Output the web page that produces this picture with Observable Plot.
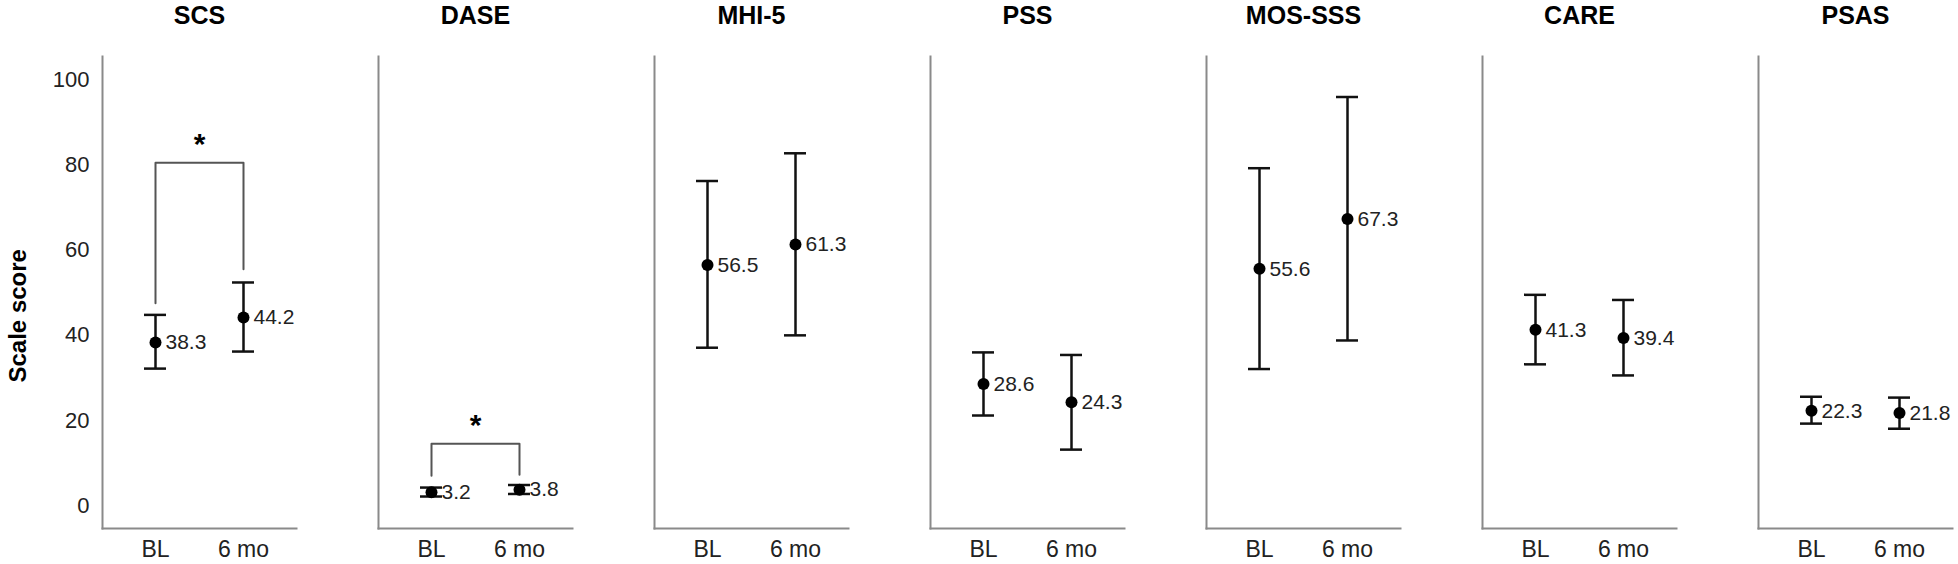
<!DOCTYPE html>
<html>
<head>
<meta charset="utf-8">
<script src="https://cdn.jsdelivr.net/npm/d3@7"></script>
<script src="https://cdn.jsdelivr.net/npm/@observablehq/plot@0.6"></script>
<style>
  html, body { margin: 0; padding: 0; background: #fff; }
</style>
</head>
<body>
<div id="chart"></div>
<script>
// ---- data ----
const scales = ["SCS", "DASE", "MHI-5", "PSS", "MOS-SSS", "CARE", "PSAS"];
const timepoints = ["BL", "6 mo"];
const meanBL = [38.3, 3.2, 56.5, 28.6, 55.6, 41.3, 22.3];
const lowBL  = [32.2, 2.2, 37.1, 21.2, 32.1, 33.2, 19.3];
const highBL = [44.8, 4.3, 76.2, 36.0, 79.2, 49.5, 25.6];
const mean6  = [44.2, 3.8, 61.3, 24.3, 67.3, 39.4, 21.8];
const low6   = [36.2, 2.8, 40.0, 13.2, 38.8, 30.6, 18.1];
const high6  = [52.4, 4.9, 82.7, 35.4, 95.9, 48.3, 25.4];
const yTicks = [0, 20, 40, 60, 80, 100];
// significance brackets
const bracketScales = ["SCS", "DASE"];
const bracketTop    = [80.5, 14.6];
const bracketLegBL  = [47.5, 7.1];
const bracketLeg6   = [55.5, 7.3];
const yLabel = "Scale score";

// ---- tables built from the arrays ----
const rows = [];
scales.forEach((s, i) => {
  rows.push({scale: s, time: timepoints[0], mean: meanBL[i], low: lowBL[i], high: highBL[i]});
  rows.push({scale: s, time: timepoints[1], mean: mean6[i], low: low6[i], high: high6[i]});
});
const bracketRows = [];
bracketScales.forEach((s, i) => {
  bracketRows.push({scale: s, time: timepoints[0], y: bracketLegBL[i]});
  bracketRows.push({scale: s, time: timepoints[0], y: bracketTop[i]});
  bracketRows.push({scale: s, time: timepoints[1], y: bracketTop[i]});
  bracketRows.push({scale: s, time: timepoints[1], y: bracketLeg6[i]});
});
const bracketStars = bracketScales.map((s, i) => ({scale: s, y: bracketTop[i]}));

const axisColor = "#8a8a8a";
const ink = "#111";

const chart = Plot.plot({
  width: 1958,
  height: 564,
  marginTop: 56,
  marginBottom: 36,
  marginLeft: 99,
  marginRight: 3,
  style: {fontFamily: "'Liberation Sans', Arial, Helvetica, sans-serif", background: "#fff", color: "#222"},
  fx: {domain: scales, paddingInner: 0.2955, paddingOuter: 0, label: null},
  x: {type: "band", domain: timepoints, paddingInner: 0.75, paddingOuter: 0.477, label: null},
  y: {domain: [-5.3, 105.4], label: null},
  marks: [
    Plot.frame({anchor: "left", stroke: axisColor, strokeWidth: 2}),
    Plot.frame({anchor: "bottom", stroke: axisColor, strokeWidth: 2}),
    Plot.axisFx({anchor: "top", tickSize: 0, tickPadding: 33, fontSize: 25, fontWeight: "bold", fill: "#000", label: null}),
    Plot.axisX({tickSize: 0, tickPadding: 12, fontSize: 23, fill: "#222", label: null}),
    Plot.axisY({ticks: yTicks, tickSize: 0, tickPadding: 13, fontSize: 22, fill: "#222", label: null}),
    Plot.text([yLabel], {fx: () => scales[0], frameAnchor: "left", rotate: -90, dx: -84, dy: 90,
      fontWeight: "bold", fontSize: 24, fill: "#000"}),
    Plot.line(bracketRows, {fx: "scale", x: "time", y: "y", z: "scale", stroke: "#555", strokeWidth: 2}),
    Plot.text(bracketStars, {fx: "scale", y: "y", text: () => "*", dy: -18, fontSize: 30, fontWeight: "bold", fill: "#000"}),
    Plot.ruleX(rows, {fx: "scale", x: "time", y1: "low", y2: "high", stroke: ink, strokeWidth: 2.5}),
    Plot.tickY(rows, {fx: "scale", x: "time", y: "low", stroke: ink, strokeWidth: 2.5}),
    Plot.tickY(rows, {fx: "scale", x: "time", y: "high", stroke: ink, strokeWidth: 2.5}),
    Plot.dot(rows, {fx: "scale", x: "time", y: "mean", r: 6, fill: "#000", stroke: "none"}),
    Plot.text(rows, {fx: "scale", x: "time", y: "mean", text: d => d.mean.toFixed(1), dx: 10,
      textAnchor: "start", fontSize: 21, fill: "#222"})
  ]
});
document.getElementById("chart").appendChild(chart);
</script>
</body>
</html>
